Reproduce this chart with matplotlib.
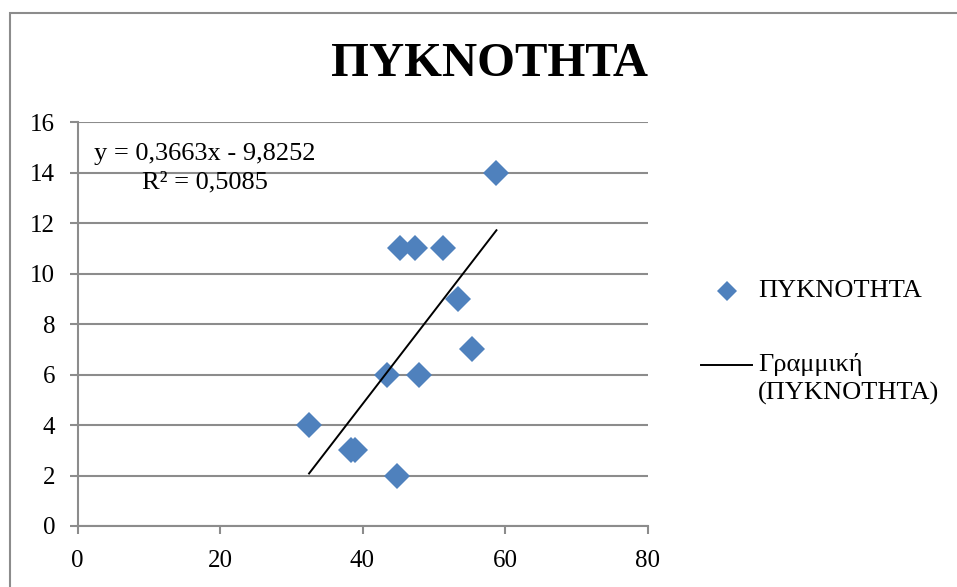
import numpy as np
import matplotlib.pyplot as plt
from matplotlib.patches import Rectangle
from matplotlib.lines import Line2D

plt.rcParams['font.family'] = ['Liberation Serif', 'DejaVu Serif']

# density samples
x_vals = [32.5, 38.4, 38.9, 44.8, 43.5, 47.9, 45.3, 47.4, 51.3, 53.4, 55.3, 58.8]
y_vals = [4, 3, 3, 2, 6, 6, 11, 11, 11, 9, 7, 14]

# linear trend as reported on the chart
slope = 0.3663
intercept = -9.8252
r2 = 0.5085

x_ticks = [0, 20, 40, 60, 80]
y_ticks = [0, 2, 4, 6, 8, 10, 12, 14, 16]

title = 'ΠΥΚΝΟΤΗΤΑ'
series_name = 'ΠΥΚΝΟΤΗΤΑ'
trend_name = 'Γραμμική\n(ΠΥΚΝΟΤΗΤΑ)'

W, H = 957, 587
fig = plt.figure(figsize=(W / 100, H / 100), dpi=100)

# chart area frame
fig.patches.append(Rectangle((10 / W, -0.1), 1.2, 1 - 13 / H + 0.1,
                             transform=fig.transFigure, fill=False,
                             edgecolor='#8c8c8c', linewidth=1.5))

ax = fig.add_axes([77.5 / W, 1 - 526 / H, 570 / W, 404 / H])

blue = '#4f81bd'
grey = '#8c8c8c'

ax.plot(x_vals, y_vals, linestyle='none', marker='D', markersize=13,
        color=blue, markeredgewidth=0, zorder=3)

xt = np.array([min(x_vals), max(x_vals)])
ax.plot(xt, slope * xt + intercept, color='black', linewidth=1.4, zorder=4)

ax.set_xlim(0, 80)
ax.set_ylim(0, 16)
ax.set_xticks(x_ticks)
ax.set_yticks(y_ticks)
ax.yaxis.grid(True, color=grey, linewidth=1.5)
ax.set_axisbelow(True)
for side in ['top', 'right']:
    ax.spines[side].set_visible(False)
for side in ['left', 'bottom']:
    ax.spines[side].set_color(grey)
    ax.spines[side].set_linewidth(1.5)
ax.tick_params(axis='both', direction='out', length=6, width=1.5, color=grey,
               labelsize=18)
ax.tick_params(axis='y', pad=10)
ax.tick_params(axis='x', pad=11)

eq = 'y = {:.4f}x - {:.4f}\nR² = {:.4f}'.format(slope, -intercept, r2).replace('.', ',')
ax.text(205 / W, 1 - 168 / H, eq, transform=fig.transFigure, ha='center',
        va='center', fontsize=19, linespacing=1.4)

fig.text(489 / W, 1 - 64 / H, title, ha='center', va='center', fontsize=35,
         fontweight='bold')

# legend entries
fig.lines.append(Line2D([727 / W], [1 - 291 / H], marker='D', markersize=10,
                        color=blue, markeredgewidth=0, transform=fig.transFigure))
fig.text(758 / W, 1 - 291 / H, series_name, ha='left', va='center', fontsize=19)
fig.lines.append(Line2D([701 / W, 752 / W], [1 - 365 / H, 1 - 365 / H],
                        color='black', linewidth=1.4, transform=fig.transFigure))
fig.text(758 / W, 1 - 379 / H, trend_name, ha='left', va='center', fontsize=19,
         linespacing=1.3)

fig.savefig('out.png', dpi=100)
